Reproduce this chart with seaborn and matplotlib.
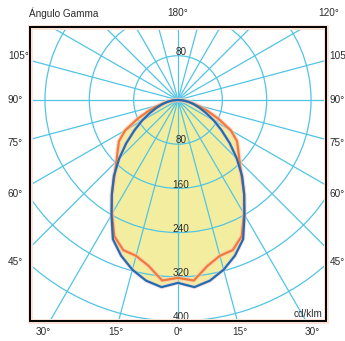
import numpy as np
import pandas as pd
import matplotlib
matplotlib.use("Agg")
import matplotlib.pyplot as plt
import seaborn as sns
from matplotlib.patches import Circle, Rectangle

# Intensity in cd/klm per gamma angle (0 = straight down), mirrored on both sides
GAMMA = [0, 5, 10, 15, 20, 25, 30, 35, 40, 45, 50, 55, 60, 65, 70, 75, 80, 85, 90]
PLANE_BLUE = [331, 340, 332, 318, 300, 278, 240, 208, 180, 150, 122, 96, 75, 56, 41, 29, 19, 9, 0]
PLANE_ORANGE = [322, 328, 305, 292, 289, 272, 238, 208, 178, 157, 142, 130, 110, 80, 55, 33, 20, 9, 0]

RINGS = [80, 160, 240, 320, 400, 480]
RING_LABELS = [80, 160, 240, 320, 400]
SIDE_TICKS = [45, 60, 75, 90, 105]
BOTTOM_TICKS = [-30, -15, 0, 15, 30]
TOP_TICKS = [180, 120]

GRID = "#52c4e4"
TXT = "#2b2b2b"


def to_xy(gamma, cd):
    g = np.deg2rad(np.concatenate([-np.array(gamma[::-1]), np.array(gamma[1:])]))
    r = np.concatenate([np.array(cd[::-1]), np.array(cd[1:])])
    return pd.DataFrame({"x": r * np.sin(g), "y": -r * np.cos(g)})


sns.set_theme(style="white")
plt.rcParams["font.family"] = ["Liberation Sans", "DejaVu Sans"]

fig = plt.figure(figsize=(3.45, 3.41), dpi=100)
ax = fig.add_axes([30 / 345, 20 / 341, 296 / 345, 294 / 341])
ax.set_xlim(-267, 267)
ax.set_ylim(-400, 132)
ax.set_xticks([])
ax.set_yticks([])

blue = to_xy(GAMMA, PLANE_BLUE)
orange = to_xy(GAMMA, PLANE_ORANGE)

# yellow fill under both planes
for df in (blue, orange):
    ax.fill(df["x"], df["y"], color="#f3ee9f", lw=0, zorder=1)

# polar grid
for r in RINGS:
    ax.add_patch(Circle((0, 0), r, fill=False, ec=GRID, lw=0.9, zorder=2))
for a in range(0, 360, 15):
    t = np.deg2rad(a)
    ax.plot([0, 600 * np.sin(t)], [0, -600 * np.cos(t)], color=GRID, lw=0.9, zorder=2)

# curves (soft halo first, as in the printed diagram)
sns.lineplot(data=blue, x="x", y="y", sort=False, estimator=None, color="#f3c6d2",
             lw=3.0, alpha=0.6, ax=ax, zorder=3)
sns.lineplot(data=orange, x="x", y="y", sort=False, estimator=None, color="#fbc9b6",
             lw=3.4, alpha=0.6, ax=ax, zorder=3)
sns.lineplot(data=orange, x="x", y="y", sort=False, estimator=None, color="#f07a3c",
             lw=1.6, ax=ax, zorder=4)
sns.lineplot(data=blue, x="x", y="y", sort=False, estimator=None, color="#1f6db0",
             lw=1.6, ax=ax, zorder=5)
ax.set_xlabel("")
ax.set_ylabel("")

# ring values
fs = 7.2
for r in RING_LABELS:
    ax.text(5, -r + 7, str(r), ha="center", va="center", fontsize=fs, color=TXT, zorder=6)
ax.text(5, RING_LABELS[0] + 7, str(RING_LABELS[0]), ha="center", va="center",
        fontsize=fs, color=TXT, zorder=6)

# angle labels around the frame
for g in SIDE_TICKS:
    t = np.deg2rad(g)
    y = -294 * np.cos(t) / np.sin(t)
    ax.text(-307, y, f"{g}°", ha="left", va="center", fontsize=fs, color=TXT, clip_on=False)
    ax.text(273, y, f"{g}°", ha="left", va="center", fontsize=fs, color=TXT, clip_on=False)
for g in BOTTOM_TICKS:
    ax.text(420 * np.tan(np.deg2rad(g)), -420, f"{abs(g)}°", ha="center", va="center",
            fontsize=fs, color=TXT, clip_on=False)
for g in TOP_TICKS:
    ax.text(157 * np.tan(np.deg2rad(180 - g)), 157, f"{g}°", ha="center", va="center",
            fontsize=fs, color=TXT, clip_on=False)
ax.text(-269, 157, "Ángulo Gamma", ha="left", va="center", fontsize=fs, color=TXT, clip_on=False)
ax.text(260, -388, "cd/klm", ha="right", va="center", fontsize=fs, color=TXT, zorder=6)

# frame with faint peach edge
for s in ax.spines.values():
    s.set_color("black")
    s.set_linewidth(1.4)
    s.set_zorder(8)
ax.add_patch(Rectangle((0, 0), 1, 1, transform=ax.transAxes, fill=False, ec="#fbe1d5",
                       lw=3.5, clip_on=False, zorder=7))

fig.savefig("out.png", dpi=100)
